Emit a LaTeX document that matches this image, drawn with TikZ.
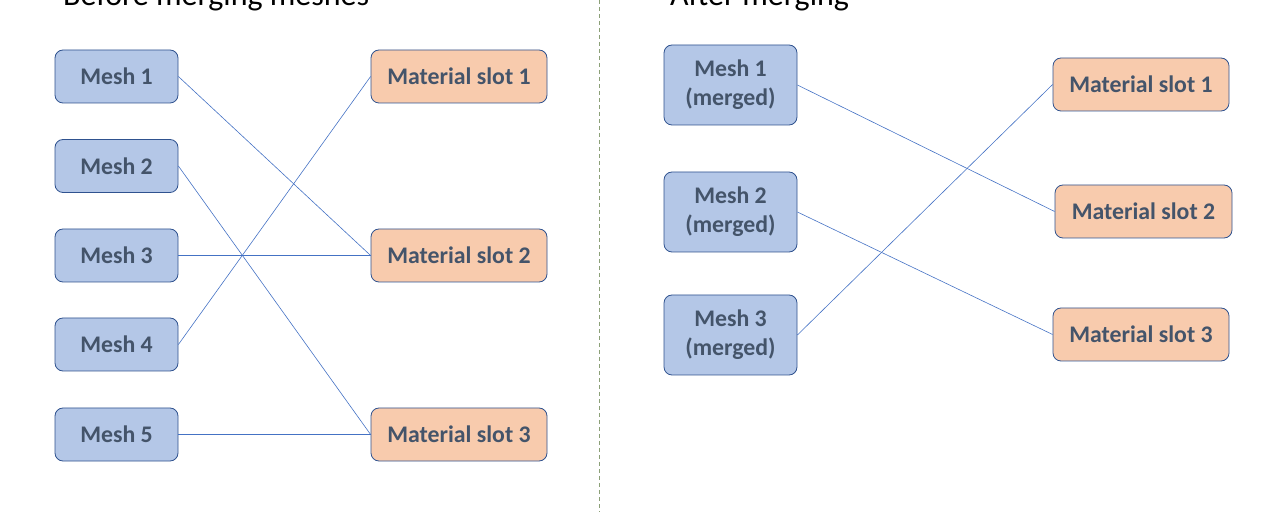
\documentclass[tikz,border=0pt]{standalone}
\usepackage{fontspec}
\setmainfont{Carlito}
\definecolor{bordc}{RGB}{47,82,143}
\definecolor{txtc}{RGB}{68,84,106}
\definecolor{meshc}{RGB}{180,199,231}
\definecolor{slotc}{RGB}{248,203,173}
\definecolor{linkc}{RGB}{68,114,196}
\definecolor{dashc}{RGB}{140,160,120}
\begin{document}
\begin{tikzpicture}[x=1pt,y=-1pt,
  box/.style={draw=bordc, line width=0.8pt, rounded corners=8pt,
    text=txtc, font=\fontsize{23.8}{29}\selectfont\bfseries, align=center, inner sep=0pt},
  meshbox/.style={box, fill=meshc},
  slotbox/.style={box, fill=slotc},
  link/.style={draw=linkc, line width=0.6pt},
  title/.style={font=\fontsize{32}{36}\selectfont, anchor=base west, inner sep=0pt}]
\useasboundingbox (0,0) rectangle (1280,526);
\node[title] (t1) at (63,6) {Before merging meshes};
\node[title] (t2) at (670,6) {After merging};
\coordinate (d1) at (599,0);
\coordinate (d2) at (599,512);
\draw[dashc, line width=0.8pt, dash pattern=on 4pt off 3pt] (d1) -- (d2);
% left meshes
\node[meshbox, minimum width=123pt, minimum height=53pt] (m1) at (116.5,76.5) {Mesh 1};
\node[meshbox, minimum width=123pt, minimum height=53pt] (m2) at (116.5,166) {Mesh 2};
\node[meshbox, minimum width=123pt, minimum height=53pt] (m3) at (116.5,255.5) {Mesh 3};
\node[meshbox, minimum width=123pt, minimum height=53pt] (m4) at (116.5,344.5) {Mesh 4};
\node[meshbox, minimum width=123pt, minimum height=53pt] (m5) at (116.5,434.5) {Mesh 5};
% left slots
\node[slotbox, minimum width=176pt, minimum height=53pt] (s1) at (459,76.5) {Material slot 1};
\node[slotbox, minimum width=176pt, minimum height=53pt] (s2) at (459,255.5) {Material slot 2};
\node[slotbox, minimum width=176pt, minimum height=53pt] (s3) at (459,434.5) {Material slot 3};
\draw[link] (m1.east) -- (s2.west);
\draw[link] (m2.east) -- (s3.west);
\draw[link] (m3.east) -- (s2.west);
\draw[link] (m4.east) -- (s1.west);
\draw[link] (m5.east) -- (s3.west);
% right meshes
\node[meshbox, minimum width=133pt, minimum height=80pt] (r1) at (730.5,85) {Mesh 1\\(merged)};
\node[meshbox, minimum width=133pt, minimum height=80pt] (r2) at (730.5,212) {Mesh 2\\(merged)};
\node[meshbox, minimum width=133pt, minimum height=80pt] (r3) at (730.5,335) {Mesh 3\\(merged)};
% right slots
\node[slotbox, minimum width=176pt, minimum height=53pt] (q1) at (1141,84.5) {Material slot 1};
\node[slotbox, minimum width=177pt, minimum height=53pt] (q2) at (1143.5,211.5) {Material slot 2};
\node[slotbox, minimum width=176pt, minimum height=53pt] (q3) at (1141,334.5) {Material slot 3};
\draw[link] (r1.east) -- (q2.west);
\draw[link] (r2.east) -- (q3.west);
\draw[link] (r3.east) -- (q1.west);
\end{tikzpicture}
\end{document}
